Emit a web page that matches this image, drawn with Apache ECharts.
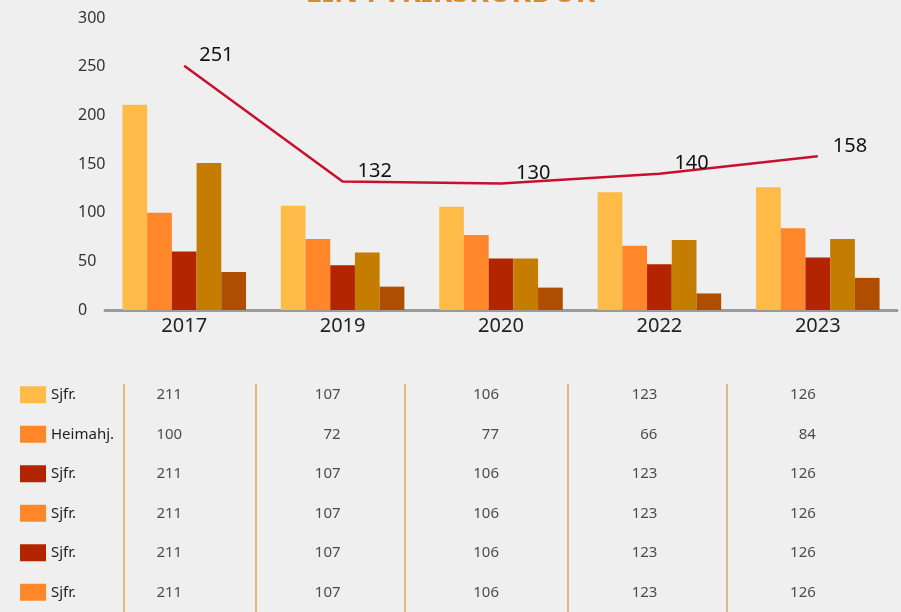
<!DOCTYPE html>
<html>
<head>
<meta charset="utf-8">
<script src="https://cdn.jsdelivr.net/npm/echarts@6/dist/echarts.min.js"></script>
<style>
  html, body { margin: 0; padding: 0; background: #efefef; }
  #chart { width: 901px; height: 612px; }
</style>
</head>
<body>
<div id="chart"></div>
<script>
// gögn
const years = ['2017', '2019', '2020', '2022', '2023'];
const yTicks = [0, 50, 100, 150, 200, 250, 300];
const bar1 = [211, 107, 106, 121, 126];
const bar2 = [100, 73, 77, 66, 84];
const bar3 = [60, 46, 53, 47, 54];
const bar4 = [151, 59, 53, 72, 73];
const bar5 = [39, 24, 23, 17, 33];
const lineValues = [251, 132, 130, 140, 158];

// tafla undir myndinni
const rowNames = ['Sjfr.', 'Heimahj.', 'Sjfr.', 'Sjfr.', 'Sjfr.', 'Sjfr.'];
const tableRows = [
  [211, 107, 106, 123, 126],
  [100, 72, 77, 66, 84],
  [211, 107, 106, 123, 126],
  [211, 107, 106, 123, 126],
  [211, 107, 106, 123, 126],
  [211, 107, 106, 123, 126]
];

const barColors = ['#ffbb47', '#ff8629', '#b32400', '#c47d00', '#b04e00'];
const rowColors = ['#ffbb47', '#ff8629', '#b32400', '#ff8629', '#b32400', '#ff8629'];
const font = 'Noto Sans';

const chart = echarts.init(document.getElementById('chart'));

// box + texti fyrir hverja línu
const rich = { t: { fontSize: 15, color: '#222', fontFamily: font, padding: [0, 0, 0, 5] } };
rowColors.forEach((c, i) => {
  rich['b' + i] = { width: 26, height: 17, backgroundColor: c };
});

const tableData = [];
tableRows.forEach((row, r) => row.forEach((v, c) => tableData.push([c, r, v])));

const sepX = [124, 256, 405, 568, 727];

const bars = [bar1, bar2, bar3, bar4, bar5].map((d, i) => ({
  type: 'bar',
  data: d,
  barGap: '0%',
  barCategoryGap: '22%',
  itemStyle: { color: barColors[i] },
  z: 2
}));

chart.setOption({
  backgroundColor: '#efefef',
  animation: false,
  title: {
    text: 'EIN FYRIRSKURÐUR',
    left: 'center',
    top: -27,
    textStyle: { color: '#d98a2a', fontSize: 30, fontWeight: 'bold', fontFamily: font }
  },
  grid: [
    { left: 105, right: 4, top: 18, bottom: 302 },
    { left: 105, right: 4, top: 375, height: 240 }
  ],
  xAxis: [
    {
      type: 'category',
      gridIndex: 0,
      data: years,
      axisLine: { lineStyle: { color: '#9a9a9a', width: 3 } },
      axisTick: { show: false },
      axisLabel: { fontSize: 20, color: '#222', fontFamily: font, margin: 6 }
    },
    {
      type: 'category',
      gridIndex: 1,
      data: years,
      show: false
    }
  ],
  yAxis: [
    {
      type: 'value',
      gridIndex: 0,
      min: yTicks[0],
      max: yTicks[yTicks.length - 1],
      interval: yTicks[1] - yTicks[0],
      splitLine: { show: false },
      axisLine: { show: false },
      axisTick: { show: false },
      axisLabel: { fontSize: 16, color: '#333', fontFamily: font, align: 'left', margin: 27 }
    },
    {
      type: 'category',
      gridIndex: 1,
      inverse: true,
      data: rowNames,
      axisLine: { show: false },
      axisTick: { show: false },
      axisLabel: {
        align: 'left',
        margin: 85,
        formatter: (v, i) => '{b' + i + '|}{t|' + v + '}',
        rich: rich
      }
    }
  ],
  series: bars.concat([
    {
      type: 'line',
      data: lineValues,
      smooth: false,
      symbol: 'circle',
      symbolSize: 0,
      showSymbol: true,
      lineStyle: { color: '#c8102e', width: 2.5 },
      itemStyle: { color: '#c8102e' },
      label: {
        show: true,
        position: 'right',
        offset: [10, -10],
        fontSize: 20,
        color: '#111',
        fontFamily: font
      },
      z: 3
    },
    {
      type: 'scatter',
      xAxisIndex: 1,
      yAxisIndex: 1,
      data: tableData,
      symbolSize: 0,
      label: {
        show: true,
        position: 'left',
        distance: 2,
        formatter: p => p.value[2],
        fontSize: 15,
        color: '#222',
        fontFamily: font
      }
    }
  ]),
  graphic: sepX.map(x => ({
    type: 'line',
    shape: { x1: x, y1: 384, x2: x, y2: 612 },
    style: { stroke: '#e0a458', lineWidth: 1.5 }
  }))
});
</script>
</body>
</html>
